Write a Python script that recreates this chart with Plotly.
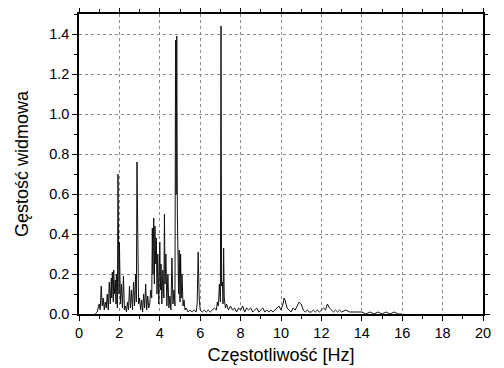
import plotly.graph_objects as go

freq = [
    0.80, 0.90, 1.00, 1.05, 1.10, 1.15, 1.20, 1.25, 1.30, 1.35,
    1.40, 1.45, 1.50, 1.55, 1.60, 1.62, 1.65, 1.70, 1.72, 1.75,
    1.80, 1.83, 1.85, 1.90, 1.93, 1.95, 1.98, 2.00, 2.05, 2.10,
    2.15, 2.20, 2.25, 2.30, 2.35, 2.40, 2.45, 2.50, 2.55, 2.60,
    2.65, 2.70, 2.75, 2.80, 2.84, 2.87, 2.90, 2.95, 3.00, 3.05,
    3.10, 3.15, 3.20, 3.25, 3.30, 3.35, 3.40, 3.45, 3.50, 3.55,
    3.60, 3.63, 3.66, 3.70, 3.73, 3.76, 3.80, 3.83, 3.86, 3.90,
    3.95, 4.00, 4.03, 4.06, 4.10, 4.15, 4.20, 4.23, 4.26, 4.30,
    4.35, 4.40, 4.45, 4.50, 4.55, 4.60, 4.65, 4.70, 4.75, 4.78,
    4.81, 4.84, 4.87, 4.90, 4.93, 4.96, 5.00, 5.03, 5.06, 5.10,
    5.15, 5.20, 5.25, 5.30, 5.40, 5.50, 5.60, 5.70, 5.80, 5.85,
    5.90, 5.95, 6.00, 6.10, 6.20, 6.30, 6.40, 6.50, 6.60, 6.70,
    6.80, 6.85, 6.90, 6.95, 7.00, 7.03, 7.06, 7.10, 7.13, 7.16,
    7.19, 7.22, 7.25, 7.30, 7.40, 7.50, 7.60, 7.70, 7.80, 7.90,
    8.00, 8.10, 8.20, 8.30, 8.40, 8.50, 8.60, 8.70, 8.80, 8.90,
    9.00, 9.10, 9.20, 9.30, 9.40, 9.50, 9.60, 9.70, 9.80, 9.90,
    10.00, 10.10, 10.15, 10.20, 10.30, 10.40, 10.50, 10.60, 10.70, 10.80,
    10.90, 11.00, 11.10, 11.20, 11.30, 11.40, 11.50, 11.60, 11.70, 11.80,
    11.90, 12.00, 12.10, 12.20, 12.30, 12.40, 12.50, 12.60, 12.70, 12.80,
    12.90, 13.00, 13.20, 13.40, 13.60, 13.80, 14.00, 14.20, 14.40, 14.60,
    14.80, 15.00, 15.20, 15.40, 15.60, 15.80, 16.00,
]

density = [
    0.00, 0.01, 0.05, 0.02, 0.14, 0.04, 0.08, 0.02, 0.06, 0.03,
    0.10, 0.02, 0.16, 0.05, 0.18, 0.08, 0.21, 0.06, 0.22, 0.10,
    0.17, 0.05, 0.20, 0.03, 0.70, 0.35, 0.10, 0.36, 0.05, 0.15,
    0.03, 0.19, 0.02, 0.04, 0.01, 0.06, 0.02, 0.14, 0.03, 0.12,
    0.02, 0.16, 0.04, 0.20, 0.06, 0.76, 0.28, 0.05, 0.08, 0.02,
    0.07, 0.01, 0.10, 0.03, 0.15, 0.02, 0.09, 0.03, 0.05, 0.12,
    0.08, 0.43, 0.20, 0.48, 0.15, 0.44, 0.25, 0.38, 0.10, 0.30,
    0.05, 0.36, 0.12, 0.25, 0.05, 0.22, 0.08, 0.50, 0.15, 0.30,
    0.04, 0.20, 0.03, 0.09, 0.02, 0.28, 0.05, 0.12, 0.04, 1.37,
    0.60, 1.39, 0.50, 0.32, 0.10, 0.32, 0.06, 0.30, 0.08, 0.20,
    0.04, 0.07, 0.02, 0.03, 0.01, 0.02, 0.01, 0.02, 0.01, 0.05,
    0.31, 0.08, 0.02, 0.01, 0.02, 0.01, 0.02, 0.01, 0.02, 0.03,
    0.02, 0.06, 0.04, 0.15, 0.06, 1.44, 0.14, 0.16, 0.05, 0.33,
    0.08, 0.06, 0.03, 0.05, 0.02, 0.04, 0.02, 0.03, 0.01, 0.03,
    0.02, 0.04, 0.01, 0.03, 0.02, 0.03, 0.01, 0.02, 0.03, 0.01,
    0.02, 0.03, 0.01, 0.02, 0.01, 0.02, 0.01, 0.02, 0.03, 0.04,
    0.02, 0.05, 0.08, 0.07, 0.03, 0.02, 0.01, 0.03, 0.02, 0.04,
    0.06, 0.05, 0.02, 0.01, 0.02, 0.01, 0.01, 0.02, 0.01, 0.02,
    0.01, 0.02, 0.03, 0.02, 0.05, 0.03, 0.02, 0.01, 0.02, 0.01,
    0.02, 0.01, 0.02, 0.01, 0.01, 0.01, 0.01, 0.00, 0.01, 0.00,
    0.01, 0.00, 0.01, 0.00, 0.01, 0.00, 0.00,
]

x_ticks = [0, 2, 4, 6, 8, 10, 12, 14, 16, 18, 20]
y_ticks = [0.0, 0.2, 0.4, 0.6, 0.8, 1.0, 1.2, 1.4]

fig = go.Figure()
fig.add_trace(go.Scatter(
    x=freq, y=density, mode="lines",
    line=dict(color="#111111", width=1),
    showlegend=False,
))

font_family = "Liberation Sans, Arial, sans-serif"
axis_common = dict(
    showline=True, linecolor="black", linewidth=1.5, mirror="ticks",
    ticks="outside", ticklen=5, tickwidth=1, tickcolor="black",
    showgrid=True, gridcolor="#8c8c8c", gridwidth=1, griddash="dot",
    zeroline=False, automargin=False,
    tickfont=dict(family=font_family, size=14.5, color="black"),
    minor=dict(ticks="outside", ticklen=3, tickcolor="black", showgrid=False),
)

fig.update_layout(
    width=496, height=360,
    margin=dict(l=71, r=21, t=6, b=54),
    paper_bgcolor="white", plot_bgcolor="white",
    font=dict(family=font_family, color="black"),
    xaxis=dict(
        range=[0, 20], tickvals=x_ticks, ticktext=[str(v) for v in x_ticks],
        minor_dtick=1,
        title=dict(text="Częstotliwość [Hz]", font=dict(size=18), standoff=8),
        **axis_common,
    ),
    yaxis=dict(
        range=[0, 1.5], tickvals=y_ticks, ticktext=[f"{v:.1f}" for v in y_ticks],
        minor_dtick=0.1,
        title=dict(text="Gęstość widmowa", font=dict(size=18), standoff=16),
        **axis_common,
    ),
)

fig.write_html("out.html")
